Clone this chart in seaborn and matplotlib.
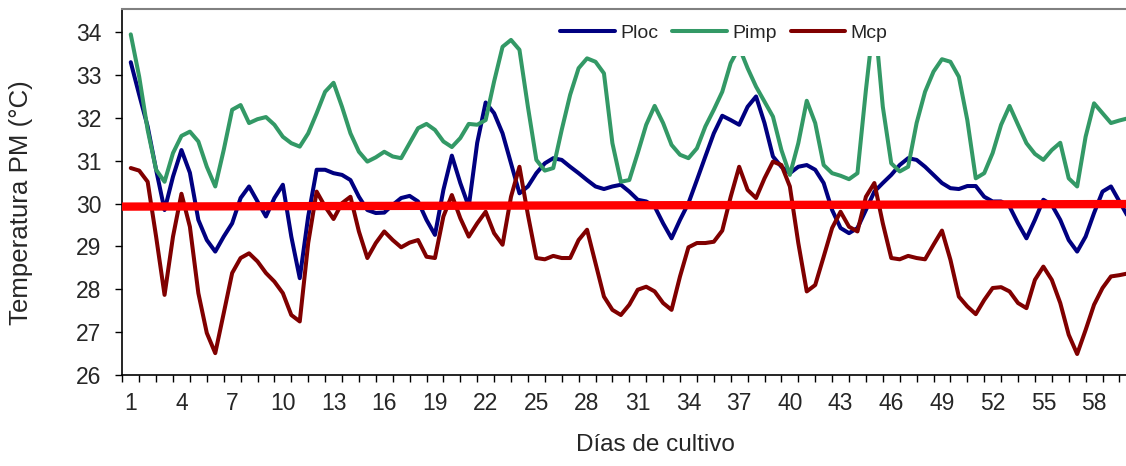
import numpy as np
import pandas as pd
import matplotlib
matplotlib.use("Agg")
import matplotlib.pyplot as plt
import seaborn as sns

# ---------------- data ----------------
days = [1 + 0.5 * i for i in range(119)]  # half-day readings, day 1 .. 60

ploc = [33.30, 32.54, 31.80, 30.79, 29.85, 30.63, 31.25, 30.72, 29.62, 29.15,
        28.88, 29.23, 29.54, 30.13, 30.40, 30.05, 29.70, 30.13, 30.44, 29.23,
        28.26, 29.70, 30.79, 30.79, 30.71, 30.67, 30.55, 30.16, 29.85, 29.78,
        29.79, 29.97, 30.13, 30.18, 30.05, 29.62, 29.27, 30.32, 31.12, 30.48,
        29.93, 31.42, 32.36, 32.11, 31.64, 30.94, 30.24, 30.40, 30.71, 30.94,
        31.06, 31.02, 30.86, 30.71, 30.55, 30.40, 30.34, 30.40, 30.44, 30.28,
        30.09, 30.05, 29.93, 29.54, 29.19, 29.62, 30.01, 30.55, 31.10, 31.64,
        32.05, 31.95, 31.84, 32.26, 32.50, 31.88, 31.10, 30.86, 30.71, 30.86,
        30.90, 30.79, 30.48, 29.85, 29.43, 29.31, 29.43, 29.85, 30.28, 30.48,
        30.67, 30.90, 31.06, 31.02, 30.86, 30.67, 30.48, 30.36, 30.34, 30.41,
        30.41, 30.16, 30.05, 30.05, 29.93, 29.54, 29.19, 29.62, 30.09, 29.97,
        29.62, 29.15, 28.88, 29.23, 29.78, 30.28, 30.40, 30.05, 29.70]

pimp = [33.95, 32.96, 31.72, 30.79, 30.51, 31.18, 31.58, 31.68, 31.45, 30.86,
        30.40, 31.25, 32.19, 32.30, 31.88, 31.97, 32.02, 31.84, 31.56, 31.41,
        31.33, 31.64, 32.11, 32.61, 32.82, 32.26, 31.64, 31.21, 30.98, 31.08,
        31.21, 31.10, 31.06, 31.41, 31.76, 31.86, 31.72, 31.45, 31.32, 31.53,
        31.86, 31.84, 31.95, 32.85, 33.66, 33.82, 33.59, 32.26, 31.02, 30.77,
        30.83, 31.72, 32.54, 33.16, 33.39, 33.31, 33.04, 31.41, 30.51, 30.55,
        31.18, 31.84, 32.28, 31.88, 31.37, 31.14, 31.06, 31.29, 31.80, 32.19,
        32.61, 33.28, 33.65, 33.16, 32.73, 32.38, 32.03, 31.25, 30.67, 31.41,
        32.40, 31.88, 30.90, 30.71, 30.65, 30.57, 30.71, 32.65, 34.40, 32.26,
        30.94, 30.75, 30.86, 31.88, 32.61, 33.08, 33.37, 33.31, 32.96, 31.95,
        30.59, 30.71, 31.18, 31.84, 32.28, 31.84, 31.41, 31.16, 31.02, 31.25,
        31.42, 30.59, 30.40, 31.56, 32.34, 32.11, 31.88, 31.94, 31.99]

mcp = [30.83, 30.77, 30.51, 29.23, 27.87, 29.23, 30.23, 29.46, 27.91, 26.98,
       26.51, 27.44, 28.38, 28.73, 28.84, 28.65, 28.38, 28.18, 27.91, 27.40,
       27.25, 29.08, 30.28, 29.93, 29.64, 30.01, 30.16, 29.35, 28.73, 29.08,
       29.35, 29.15, 28.98, 29.09, 29.15, 28.76, 28.73, 29.70, 30.20, 29.66,
       29.23, 29.54, 29.81, 29.31, 29.04, 30.16, 30.86, 29.74, 28.73, 28.70,
       28.78, 28.73, 28.73, 29.15, 29.39, 28.61, 27.83, 27.52, 27.40, 27.64,
       27.99, 28.06, 27.95, 27.68, 27.52, 28.30, 28.98, 29.08, 29.08, 29.11,
       29.37, 30.16, 30.86, 30.32, 30.13, 30.59, 30.98, 30.90, 30.40, 29.08,
       27.95, 28.10, 28.76, 29.43, 29.81, 29.46, 29.35, 30.16, 30.48, 29.54,
       28.73, 28.70, 28.78, 28.73, 28.70, 29.04, 29.37, 28.69, 27.83, 27.60,
       27.42, 27.75, 28.03, 28.05, 27.95, 27.68, 27.56, 28.22, 28.53, 28.22,
       27.68, 26.94, 26.49, 27.05, 27.64, 28.03, 28.30, 28.33, 28.37]

ref_days = [0.5, 60.0]
ref_values = [29.93, 29.99]

series_names = ["Ploc", "Pimp", "Mcp"]
series_colors = ["#000080", "#339966", "#800000"]
x_tick_days = list(range(1, 59, 3))
x_tick_labels = [str(d) for d in x_tick_days]
y_ticks = [26, 27, 28, 29, 30, 31, 32, 33, 34]

# ---------------- build ----------------
df = pd.concat([
    pd.DataFrame({"day": days, "temp": vals, "serie": name})
    for name, vals in zip(series_names, [ploc, pimp, mcp])
], ignore_index=True)
df_ref = pd.DataFrame({"day": ref_days, "temp": ref_values})

sns.set_style("white")
plt.rcParams["font.family"] = ["Liberation Sans", "DejaVu Sans"]

W, H = 1126, 466
fig = plt.figure(figsize=(W / 100, H / 100), dpi=100)
ax = fig.add_axes([122.3 / W, 91 / H, (W - 122.3) / W, 365.5 / H])

sns.lineplot(data=df, x="day", y="temp", hue="serie", hue_order=series_names,
             palette=dict(zip(series_names, series_colors)), linewidth=2.9,
             ax=ax, legend=True, zorder=2)
sns.lineplot(data=df_ref, x="day", y="temp", color="#FF0000", linewidth=6.0,
             ax=ax, legend=False, zorder=3)

ax.set_xlim(0.5, 59.89)
ax.set_ylim(26, 34.53)

ax.set_yticks(y_ticks)
ax.set_yticklabels([str(v) for v in y_ticks])
ax.set_xticks(x_tick_days)
ax.set_xticklabels(x_tick_labels)
ax.set_xticks(np.arange(0.5, 60, 1), minor=True)

ax.tick_params(axis="y", which="major", direction="out", length=5, width=1,
               color="black", labelsize=16.5, pad=10, left=True)
ax.tick_params(axis="x", which="major", length=0, labelsize=16.5, pad=12)
ax.tick_params(axis="x", which="minor", direction="out", length=5, width=1,
               color="black", bottom=True)

for s in ["left", "bottom"]:
    ax.spines[s].set_color("black")
    ax.spines[s].set_linewidth(1.2)
ax.spines["top"].set_color("#808080")
ax.spines["top"].set_linewidth(1.5)
ax.spines["right"].set_visible(False)

ax.set_xlabel("Días de cultivo", fontsize=17.5)
ax.xaxis.set_label_coords((655 - 122.3) / (W - 122.3), (375 - 434) / 365.5)
ax.set_ylabel("Temperatura PM (°C)", fontsize=18.6)
ax.yaxis.set_label_coords((33 - 122.3) / (W - 122.3), (375 - 203) / 365.5)

handles, labels = ax.get_legend_handles_labels()
leg = ax.legend(handles, labels, loc="center", ncol=3,
                bbox_to_anchor=(724 / W, 1 - 33.5 / H), bbox_transform=fig.transFigure,
                frameon=True, fancybox=False, facecolor="white", edgecolor="none",
                framealpha=1.0, fontsize=14, handlelength=2.8, handletextpad=0.3,
                columnspacing=0.7, borderpad=0.68)
for h in leg.get_lines():
    h.set_linewidth(2.9)
leg.set_zorder(5)

fig.savefig("out.png", dpi=100)
